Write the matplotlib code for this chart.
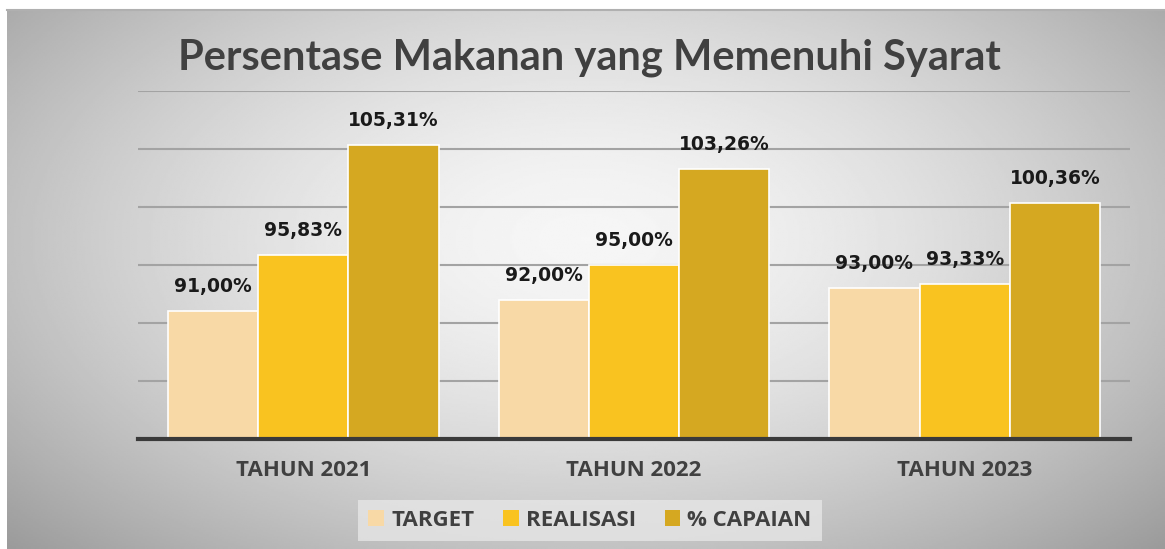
import numpy as np
import matplotlib.pyplot as plt
from matplotlib.patches import Patch

categories = ["TAHUN 2021", "TAHUN 2022", "TAHUN 2023"]
series_names = ["TARGET", "REALISASI", "% CAPAIAN"]
target = [91.00, 92.00, 93.00]
realisasi = [95.83, 95.00, 93.33]
capaian = [105.31, 103.26, 100.36]
colors = ["#F8D9A6", "#F9C320", "#D5A821"]

W, H = 1165, 549
fig = plt.figure(figsize=(W / 100, H / 100), dpi=100)
fig.patch.set_facecolor("white")

# background panel with radial grey gradient
bg = fig.add_axes([7 / W, 0, 1 - 7 / W, 539 / H])
yy, xx = np.mgrid[-1:1:300j, -1:1:600j]
r = np.sqrt((xx * 1.0) ** 2 + ((yy + 0.15) * 0.85) ** 2)
shade = 0.965 - 0.21 * r ** 1.6
bg.imshow(shade, cmap="gray", vmin=0, vmax=1, aspect="auto")
bg.axis("off")
fig.add_artist(plt.Line2D([7 / W, 1], [539 / H, 539 / H], color="#B0B0B0", lw=1.5))

ax = fig.add_axes([138 / W, 1 - 439 / H, 992 / W, 348 / H])
ax.patch.set_alpha(0)
x = np.arange(len(categories))
width = 0.2727
all_series = [target, realisasi, capaian]
for i, (vals, col) in enumerate(zip(all_series, colors)):
    pos = x + (i - 1) * width
    ax.bar(pos, vals, width=width, color=col, edgecolor="white", linewidth=1.2, zorder=3)
    for p, v in zip(pos, vals):
        ax.text(p, v + 1.3, f"{v:.2f}%".replace(".", ","), ha="center", va="bottom",
                fontsize=13.5, fontweight="bold", color="#1a1a1a", family="DejaVu Sans", zorder=4)

ax.set_ylim(80, 110)
ax.set_xlim(-0.5, 2.5)
ax.set_yticks(np.arange(80, 111, 5))
ax.yaxis.grid(True, color="#A3A3A3", linewidth=1.5, zorder=0)
ax.tick_params(axis="y", left=False, labelleft=False)
ax.tick_params(axis="x", length=0, pad=15)
ax.set_xticks(x)
ax.set_xticklabels(categories, fontsize=16, fontweight="bold", color="#404040", family="Open Sans")
for s in ["top", "right", "left"]:
    ax.spines[s].set_visible(False)
ax.spines["bottom"].set_color("#3A3A3A")
ax.spines["bottom"].set_linewidth(3)
ax.spines["bottom"].set_zorder(5)

fig.text(589 / W, 1 - 58 / H, "Persentase Makanan yang Memenuhi Syarat", ha="center", va="center",
         fontsize=30, fontweight="bold", color="#404040", family="Lato")

handles = [Patch(facecolor=c, edgecolor="none") for c in colors]
leg = fig.legend(handles, series_names, loc="center", bbox_to_anchor=(590 / W, 1 - 520 / H), ncol=3,
                 frameon=True, handlelength=0.7, handleheight=0.7, handletextpad=0.32, columnspacing=1.3,
                 prop={"family": "Open Sans", "weight": "bold", "size": 16}, borderpad=0.45)
leg.get_frame().set_facecolor("#E6E6E6")
leg.get_frame().set_edgecolor("none")
leg.get_frame().set_alpha(0.8)
leg.get_frame().set_boxstyle("square", pad=0)
for t in leg.get_texts():
    t.set_color("#404040")

fig.savefig("out.png", dpi=100)
